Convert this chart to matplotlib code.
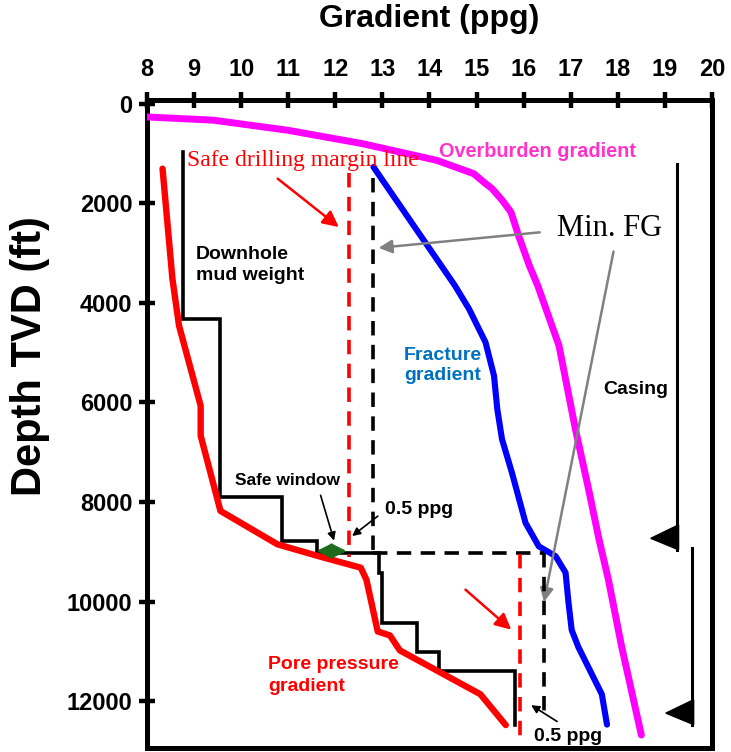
import numpy as np
import matplotlib
matplotlib.use("Agg")
import matplotlib.pyplot as plt
from matplotlib.patches import Polygon

SANS = "Liberation Sans"
SERIF = "Liberation Serif"

# Overburden gradient (ppg) vs depth (ft)
ob_depth = [268, 335, 537, 805, 1140, 1409, 1600, 1710, 1950, 2180, 2649, 3253, 3660,
            4860, 6540, 7750, 8750, 9560, 10900, 12680]
ob_grad = [7.95, 9.41, 10.99, 12.57, 14.15, 14.94, 15.18, 15.33, 15.55, 15.73, 15.89,
           16.12, 16.3, 16.75, 17.1, 17.38, 17.6, 17.8, 18.08, 18.5]

# Fracture gradient
fg_depth = [1275, 3656, 4125, 4795, 5467, 6137, 6740, 7410, 8420, 8890, 9090,
            9420, 10000, 10570, 10910, 11860, 12470]
fg_grad = [12.81, 14.54, 14.84, 15.19, 15.37, 15.44, 15.54, 15.75, 16.04, 16.32,
           16.68, 16.89, 16.95, 17.02, 17.16, 17.66, 17.77]

# Pore pressure gradient
pp_depth = [1308, 3520, 4460, 6070, 6670, 8180, 8850, 9090, 9320, 9560, 10600,
            10680, 10980, 11860, 12480]
pp_grad = [8.33, 8.54, 8.68, 9.14, 9.14, 9.56, 10.77, 11.65, 12.54, 12.66, 12.90,
           13.16, 13.37, 15.08, 15.62]

# Downhole mud weight: interval boundaries (ft) and weight per interval (ppg)
mw_breaks = [970, 4320, 7910, 8790, 9030, 9420, 10430, 11010, 11390, 12470]
mw_values = [8.77, 9.56, 10.86, 11.62, 12.93, 13.0, 13.73, 14.2, 15.82]

# Minimum fracture gradient per section and safe-margin lines (min FG - 0.5)
min_fg = [12.8, 16.43]
margin = 0.5
section_top = [1500, 9030]
section_bottom = [9030, 12300]
margin_top = [1400, 9050]
margin_bottom = [9100, 12700]

# Casing strings: x position, top and shoe depths
casing_x = [19.25, 19.57]
casing_top = [1207, 8920]
casing_shoe = [8960, 12470]

fig = plt.figure(figsize=(7.31, 7.52), dpi=100)
ax = fig.add_axes([0.2011, 0.0053, 0.7729, 0.8617])

ax.plot(ob_grad, ob_depth, color="#FF00FF", lw=5.0, solid_capstyle="round",
        solid_joinstyle="round", zorder=3)
ax.plot(fg_grad, fg_depth, color="#0000FF", lw=4.4, solid_capstyle="round",
        solid_joinstyle="round", zorder=3)

# mud-weight step profile
mw_x = np.repeat(mw_values, 2)
mw_y = np.array([[mw_breaks[i], mw_breaks[i + 1]] for i in range(len(mw_values))]).ravel()
ax.plot(mw_x, mw_y, color="black", lw=2.6, zorder=4, solid_joinstyle="miter")

ax.plot(pp_grad, pp_depth, color="#FF0000", lw=4.6, solid_capstyle="round",
        solid_joinstyle="round", zorder=5)

dash = (0, (4.0, 2.6))
# minimum FG verticals and the connecting horizontal at the casing point
ax.plot([min_fg[0], min_fg[0]], [section_top[0], section_bottom[0]], color="black",
        lw=2.6, linestyle=dash, zorder=4)
ax.plot([min_fg[0], min_fg[1]], [section_bottom[0], section_bottom[0]], color="black",
        lw=2.6, linestyle=dash, zorder=4)
ax.plot([min_fg[1], min_fg[1]], [section_top[1], section_bottom[1]], color="black",
        lw=2.6, linestyle=dash, zorder=4)
for fgv, t, b in zip(min_fg, margin_top, margin_bottom):
    ax.plot([fgv - margin, fgv - margin], [t, b], color="#FF0000", lw=2.6,
            linestyle=dash, zorder=6)

# casing strings with shoe markers
for cx, ct, cs in zip(casing_x, casing_top, casing_shoe):
    ax.plot([cx, cx], [ct, cs], color="black", lw=2.2, zorder=4)
    shoe = Polygon([[cx - 0.55, cs - 230], [cx + 0.04, cs - 500], [cx + 0.04, cs]],
                   closed=True, color="black", zorder=4)
    ax.add_patch(shoe)

# safe window arrow
ax.annotate("", xy=(11.6, 8985), xytext=(12.24, 8985),
            arrowprops=dict(arrowstyle="<|-|>", color="#1E6B1E", lw=2.0,
                            mutation_scale=22, shrinkA=0, shrinkB=0), zorder=7)

# annotations
ax.text(8.85, 1150, "Safe drilling margin line", color="#FF0000", fontsize=17,
        family=SERIF, va="center", ha="left", zorder=8)
ax.annotate("", xy=(12.12, 2515), xytext=(10.73, 1475),
            arrowprops=dict(arrowstyle="-|>", color="#FF0000", lw=1.8,
                            mutation_scale=24))
ax.annotate("", xy=(15.78, 10600), xytext=(14.72, 9724),
            arrowprops=dict(arrowstyle="-|>", color="#FF0000", lw=1.8,
                            mutation_scale=24))

ax.text(16.71, 2515, "Min. FG", color="black", fontsize=22, family=SERIF,
        va="center", ha="left")
ax.annotate("", xy=(12.86, 2904), xytext=(16.4, 2581),
            arrowprops=dict(arrowstyle="-|>", color="#808080", lw=1.8,
                            mutation_scale=20))
ax.annotate("", xy=(16.42, 10060), xytext=(17.92, 2917),
            arrowprops=dict(arrowstyle="-|>", color="#808080", lw=1.8,
                            mutation_scale=20))

ax.text(9.04, 3250, "Downhole\nmud weight", color="black", fontsize=14,
        family=SANS, weight="bold", va="center", ha="left", linespacing=1.3)
ax.text(14.2, 972, "Overburden gradient", color="#FF33CC", fontsize=14.3,
        family=SANS, weight="bold", va="center", ha="left")
ax.text(14.29, 5260, "Fracture\ngradient", color="#0070C0", fontsize=14,
        family=SANS, weight="bold", va="center", ha="center", linespacing=1.3)
ax.text(18.38, 5734, "Casing", color="black", fontsize=14, family=SANS,
        weight="bold", va="center", ha="center")
ax.text(10.99, 7579, "Safe window", color="black", fontsize=12.5, family=SANS,
        weight="bold", va="center", ha="center")
ax.annotate("", xy=(11.99, 8830), xytext=(11.67, 7813),
            arrowprops=dict(arrowstyle="-|>", color="black", lw=1.2,
                            mutation_scale=12))
ax.text(13.06, 8149, "0.5 ppg", color="black", fontsize=14, family=SANS,
        weight="bold", va="center", ha="left")
ax.annotate("", xy=(12.31, 8718), xytext=(12.95, 8249),
            arrowprops=dict(arrowstyle="-|>", color="black", lw=1.2,
                            mutation_scale=12))
ax.text(16.22, 12708, "0.5 ppg", color="black", fontsize=14, family=SANS,
        weight="bold", va="center", ha="left")
ax.annotate("", xy=(16.11, 12050), xytext=(16.76, 12437),
            arrowprops=dict(arrowstyle="-|>", color="black", lw=1.2,
                            mutation_scale=12))
ax.text(10.57, 11490, "Pore pressure\ngradient", color="#FF0000", fontsize=14,
        family=SANS, weight="bold", va="center", ha="left", linespacing=1.4)

# axes styling
ax.set_xlim(8, 20)
ax.set_ylim(12940, -70)
ax.xaxis.tick_top()
ax.xaxis.set_label_position("top")
ax.set_xticks(range(8, 21))
ax.set_yticks(range(0, 12001, 2000))
for s in ax.spines.values():
    s.set_linewidth(3.6)
ax.tick_params(axis="both", direction="inout", length=11, width=3.2)
ax.tick_params(axis="x", pad=8)
ax.tick_params(axis="y", pad=5)
for lab in ax.get_xticklabels() + ax.get_yticklabels():
    lab.set_fontfamily(SANS)
    lab.set_fontweight("bold")
    lab.set_fontsize(17)
ax.set_xlabel("Gradient (ppg)", fontsize=23, family=SANS, weight="bold",
              va="center")
ax.xaxis.set_label_coords(0.5, 1 + (100 - 19) / 648.0)
ax.set_ylabel("Depth TVD (ft)", fontsize=30, family=SANS, weight="bold",
              va="center")
ax.yaxis.set_label_coords(-(147 - 30) / 565.0, (748 - 356) / 648.0)

fig.savefig("out.png", dpi=100)
